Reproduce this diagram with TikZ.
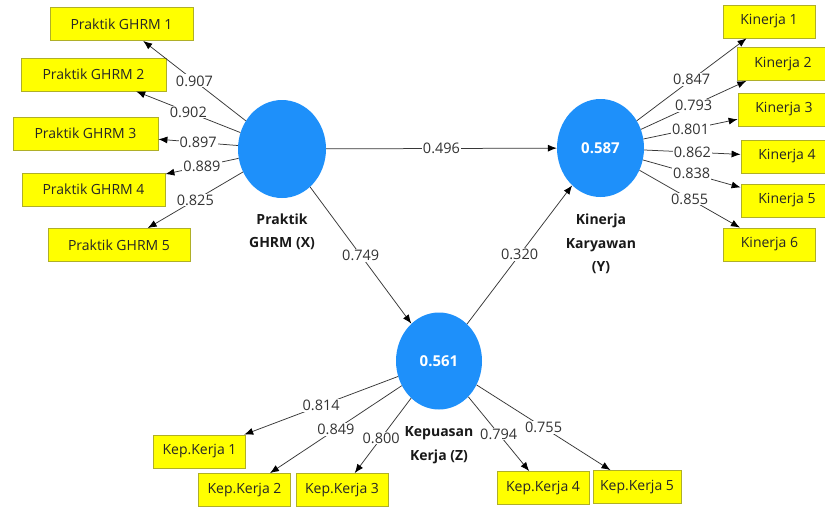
\documentclass[tikz,border=0pt]{standalone}
\usepackage{fontspec}
\setmainfont{Open Sans}
\usetikzlibrary{shapes.geometric,arrows.meta}
\definecolor{lvblue}{RGB}{30,144,250}
\definecolor{boxyellow}{RGB}{255,255,0}
\definecolor{boxedge}{RGB}{175,175,40}
\definecolor{linegray}{RGB}{55,55,55}
\begin{document}
\begin{tikzpicture}[x=1pt,y=-1pt,
  latent/.style={ellipse, fill=lvblue, draw=none, inner sep=0pt, font=\fontsize{15}{18}\selectfont\bfseries, text=white},
  ind/.style={rectangle, fill=boxyellow, draw=boxedge, line width=0.8pt, minimum height=33pt, inner sep=0pt, font=\fontsize{14}{16}\selectfont, text=black!85},
  lvname/.style={align=center, font=\fontsize{14}{23.5}\selectfont\bfseries, text=black!90},
  pathline/.style={draw=linegray, line width=0.75pt, -{Latex[length=9pt,width=7pt,black]}},
  coef/.style={fill=white, inner sep=1pt, font=\fontsize{14.5}{16}\selectfont, text=black!80, pos=0.5},
]
\useasboundingbox (0,0) rectangle (825,507);
\clip (0,0) rectangle (825,507);
\fill[white] (0,0) rectangle (825,507);

% latent variables
\node[latent, minimum width=88pt, minimum height=98pt] (X) at (282,149) {};
\node[latent, minimum width=87pt, minimum height=98pt] (Y) at (600.5,148) {0.587};
\node[latent, minimum width=86pt, minimum height=97pt] (Z) at (439,361) {0.561};

\node[lvname] (Xn) at (282,232) {Praktik\\GHRM (X)};
\node[lvname] (Yn) at (601,244) {Kinerja\\Karyawan\\(Y)};
\node[lvname] (Zn) at (439,445) {Kepuasan\\Kerja (Z)};

% indicators X
\node[ind, minimum width=143pt] (g1) at (121.5,24) {Praktik GHRM 1};
\node[ind, minimum width=145pt] (g2) at (93.5,74.5) {Praktik GHRM 2};
\node[ind, minimum width=145pt] (g3) at (85.5,133.5) {Praktik GHRM 3};
\node[ind, minimum width=143pt] (g4) at (93.5,189.5) {Praktik GHRM 4};
\node[ind, minimum width=142pt] (g5) at (119,245) {Praktik GHRM 5};

% indicators Y
\node[ind, minimum width=92pt] (k1) at (769,21.5) {Kinerja 1};
\node[ind, minimum width=92pt] (k2) at (783,64) {Kinerja 2};
\node[ind, minimum width=92pt] (k3) at (784,109.5) {Kinerja 3};
\node[ind, minimum width=92pt] (k4) at (787,156.5) {Kinerja 4};
\node[ind, minimum width=92pt] (k5) at (787,200.5) {Kinerja 5};
\node[ind, minimum width=92pt] (k6) at (769.5,244.5) {Kinerja 6};

% indicators Z
\node[ind, minimum width=92pt] (z1) at (199.5,451.5) {Kep.Kerja 1};
\node[ind, minimum width=92pt] (z2) at (244.5,490) {Kep.Kerja 2};
\node[ind, minimum width=92pt] (z3) at (342,490) {Kep.Kerja 3};
\node[ind, minimum width=92pt] (z4) at (543,488) {Kep.Kerja 4};
\node[ind, minimum width=88pt] (z5) at (637,487) {Kep.Kerja 5};

% outer loadings X
\draw[pathline] (X) -- node[coef]{0.907} (g1);
\draw[pathline] (X) -- node[coef]{0.902} (g2);
\draw[pathline] (X) -- node[coef]{0.897} (g3);
\draw[pathline] (X) -- node[coef]{0.889} (g4);
\draw[pathline] (X) -- node[coef]{0.825} (g5);

% outer loadings Y
\draw[pathline] (Y) -- node[coef]{0.847} (k1);
\draw[pathline] (Y) -- node[coef]{0.793} (k2);
\draw[pathline] (Y) -- node[coef]{0.801} (k3);
\draw[pathline] (Y) -- node[coef]{0.862} (k4);
\draw[pathline] (Y) -- node[coef]{0.838} (k5);
\draw[pathline] (Y) -- node[coef]{0.855} (k6);

% outer loadings Z
\draw[pathline] (Z) -- node[coef]{0.814} (z1);
\draw[pathline] (Z) -- node[coef]{0.849} (z2);
\draw[pathline] (Z) -- node[coef, pos=0.53]{0.800} (z3);
\draw[pathline] (Z) -- node[coef]{0.794} (z4);
\draw[pathline] (Z) -- node[coef]{0.755} (z5);

% inner paths
\draw[pathline] (X) -- node[coef]{0.496} (Y);
\draw[pathline] (X) -- node[coef]{0.749} (Z);
\draw[pathline] (Z) -- node[coef]{0.320} (Y);
\end{tikzpicture}
\end{document}
